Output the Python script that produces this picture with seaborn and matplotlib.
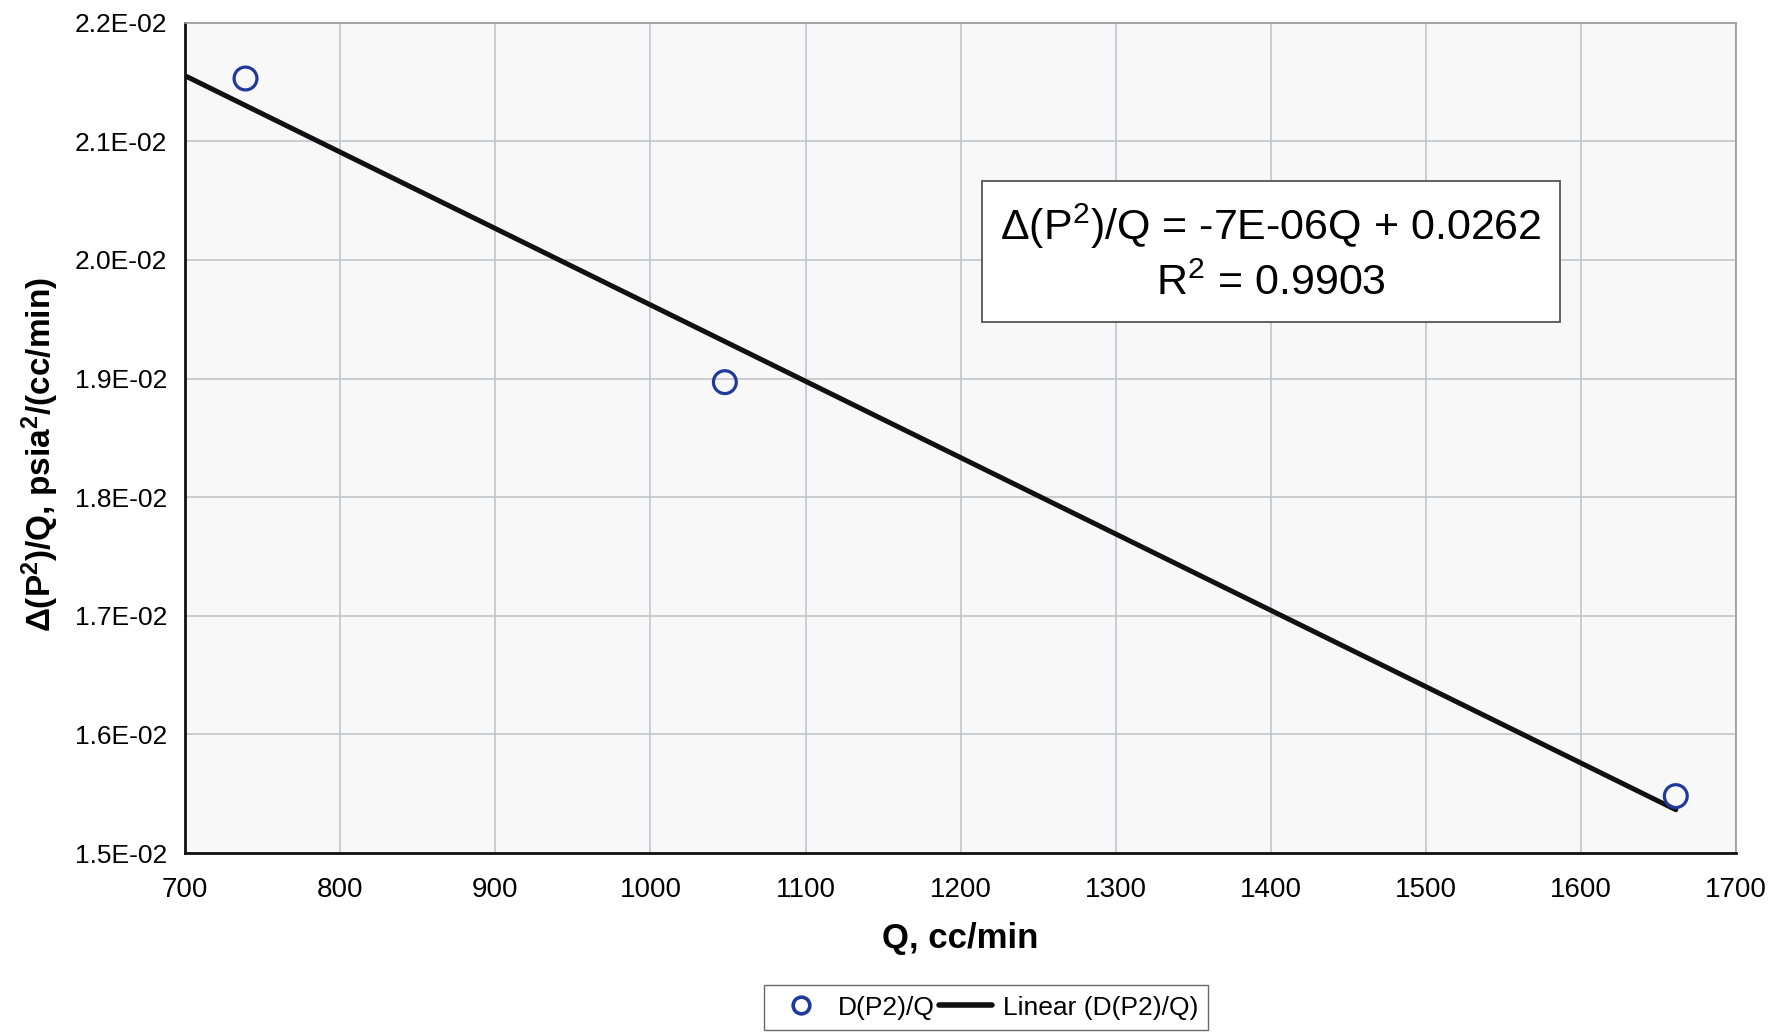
import numpy as np
import pandas as pd
import matplotlib
matplotlib.use("Agg")
import matplotlib.pyplot as plt
import seaborn as sns
from matplotlib.lines import Line2D

# Measured flow rates and pressure-squared drop per unit flow
q_values = [739, 1048, 1661]
dp2_over_q = [0.02153, 0.01897, 0.01548]

x_ticks = [700, 800, 900, 1000, 1100, 1200, 1300, 1400, 1500, 1600, 1700]
y_ticks = [0.015, 0.016, 0.017, 0.018, 0.019, 0.020, 0.021, 0.022]
y_tick_labels = ["1.5E-02", "1.6E-02", "1.7E-02", "1.8E-02", "1.9E-02",
                 "2.0E-02", "2.1E-02", "2.2E-02"]

series_name = "D(P2)/Q"
trend_name = "Linear (D(P2)/Q)"
equation_text = "Δ(P$^{2}$)/Q = -7E-06Q + 0.0262\nR$^{2}$ = 0.9903"
x_label = "Q, cc/min"
y_label = "Δ(P$^{2}$)/Q, psia$^{2}$/(cc/min)"

sns.set_theme(style="whitegrid")
plt.rcParams["font.family"] = ["Liberation Sans", "DejaVu Sans"]
plt.rcParams["mathtext.fontset"] = "custom"
plt.rcParams["mathtext.rm"] = "Liberation Sans"
plt.rcParams["mathtext.bf"] = "Liberation Sans:bold"
plt.rcParams["mathtext.default"] = "regular"
plt.rcParams["text.color"] = "black"
plt.rcParams["axes.labelcolor"] = "black"
plt.rcParams["xtick.color"] = "black"
plt.rcParams["ytick.color"] = "black"

df = pd.DataFrame({"Q": q_values, "dp2q": dp2_over_q})

# Least-squares linear trend, drawn from the axis start to the last point
slope, intercept = np.polyfit(df["Q"], df["dp2q"], 1)
trend = pd.DataFrame({"Q": [x_ticks[0], max(q_values)]})
trend["dp2q"] = slope * trend["Q"] + intercept

fig = plt.figure(figsize=(17.79, 10.34), dpi=100)
ax = fig.add_axes([0.104, 0.175, 0.872, 0.803])
ax.set_facecolor("#f8f8f8")

sns.lineplot(data=trend, x="Q", y="dp2q", ax=ax, color="#111111",
             linewidth=3.6, zorder=3)
sns.scatterplot(data=df, x="Q", y="dp2q", ax=ax, marker="o", s=270,
                facecolor="none", edgecolor="#1f3a9a", linewidth=2.3,
                zorder=4)

ax.set_xlim(700, 1700)
ax.set_ylim(0.015, 0.022)
ax.set_xticks(x_ticks)
ax.set_yticks(y_ticks)
ax.set_yticklabels(y_tick_labels)
ax.tick_params(axis="y", labelsize=19, direction="out", length=7,
               width=1.2, color="#222222", pad=6)
ax.tick_params(axis="x", labelsize=20, direction="out", length=7,
               width=1.2, color="#222222", pad=10)
ax.grid(True, color="#c4c4cc", linewidth=1.2)

for side in ["left", "bottom"]:
    ax.spines[side].set_color("#111111")
    ax.spines[side].set_linewidth(2)
for side in ["top", "right"]:
    ax.spines[side].set_color("#9a9aa0")
    ax.spines[side].set_linewidth(1.2)

ax.set_xlabel(x_label, fontsize=25, fontweight="bold", labelpad=14)
ax.set_ylabel(y_label, fontsize=24, fontweight="bold")
ax.yaxis.set_label_coords(-0.08, 0.48)

ax.text(0.70, 0.723, equation_text, transform=ax.transAxes,
        ha="center", va="center", fontsize=31, linespacing=1.4,
        bbox=dict(boxstyle="square,pad=0.42", facecolor="white",
                  edgecolor="#555555", linewidth=1.3), zorder=5)

handles = [
    Line2D([], [], marker="o", linestyle="none", markersize=12,
           markerfacecolor="none", markeredgecolor="#1f3a9a",
           markeredgewidth=2.6),
    Line2D([], [], color="#111111", linewidth=4),
]
fig.legend(handles, [series_name, trend_name], loc="lower center",
           bbox_to_anchor=(0.5545, -0.009), ncol=2, fontsize=19,
           frameon=True, fancybox=False, edgecolor="#444444",
           handlelength=2.0, handletextpad=0.4, columnspacing=0.15,
           borderpad=0.4, borderaxespad=0.5)

fig.savefig("out.png", dpi=100, facecolor="white")
